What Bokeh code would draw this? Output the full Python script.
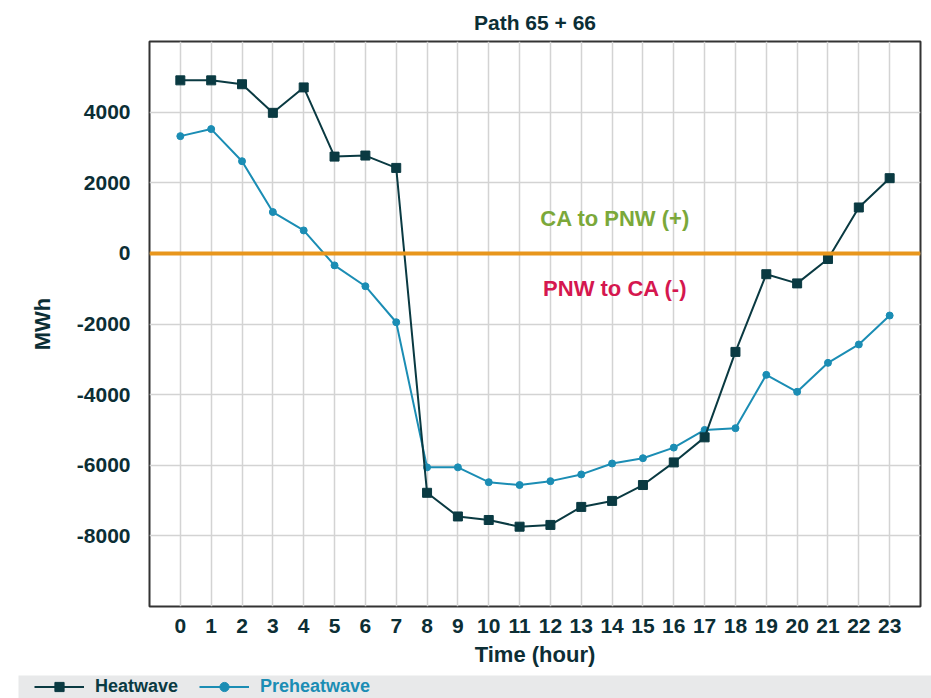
from bokeh.plotting import figure
from bokeh.models import (Span, Label, FixedTicker, Range1d, Legend, LegendItem,
                          ColumnDataSource, Spacer)
from bokeh.layouts import column, row
from bokeh.embed import file_html
from bokeh.resources import INLINE

hours = list(range(24))
heatwave = [4900, 4900, 4790, 3980, 4700, 2740, 2770, 2420, -6780, -7450, -7550, -7740,
            -7690, -7180, -7010, -6560, -5920, -5210, -2790, -590, -850, -160, 1300, 2130]
preheatwave = [3320, 3520, 2610, 1170, 650, -340, -930, -1950, -6060, -6060, -6480, -6560,
               -6450, -6260, -5950, -5800, -5500, -5000, -4950, -3440, -3920, -3100, -2580, -1760]
y_ticks = [-8000, -6000, -4000, -2000, 0, 2000, 4000]
series_names = ["Heatwave", "Preheatwave"]

FONT = "Liberation Sans"
DARK = "#0C2E35"
C_HEAT = "#0A3A42"
C_PRE = "#1B8DB4"

p = figure(width=931, height=675, output_backend="svg", toolbar_location=None,
           x_range=Range1d(-1, 24), y_range=Range1d(-10000, 6000),
           min_border_left=149, min_border_right=11, min_border_top=40, min_border_bottom=69,
           title="Path 65 + 66")
p.title.align = "center"
p.title.text_font = FONT
p.title.text_font_size = "21px"
p.title.text_font_style = "bold"
p.title.text_color = DARK
p.title.standoff = 16

p.outline_line_color = "#333333"
p.outline_line_width = 2

p.xaxis.ticker = FixedTicker(ticks=hours)
p.yaxis.ticker = FixedTicker(ticks=y_ticks)
p.yaxis.major_label_overrides = {t: str(t) for t in y_ticks}
for ax in (p.xaxis[0], p.yaxis[0]):
    ax.axis_line_color = None
    ax.major_tick_line_color = None
    ax.minor_tick_line_color = None
    ax.major_tick_out = 0
    ax.major_tick_in = 0
    ax.major_label_text_font = FONT
    ax.major_label_text_font_style = "bold"
    ax.major_label_text_color = DARK
    ax.axis_label_text_font = FONT
    ax.axis_label_text_font_style = "bold"
    ax.axis_label_text_color = DARK
    ax.axis_label_text_font_size = "22px"
p.xaxis.major_label_text_font_size = "21px"
p.yaxis.major_label_text_font_size = "21px"
p.xaxis.axis_label = "Time (hour)"
p.yaxis.axis_label = "MWh"
p.xaxis.major_label_standoff = 12
p.yaxis.major_label_standoff = 19
p.xaxis.axis_label_standoff = 6
p.yaxis.axis_label_standoff = 19

p.grid.grid_line_color = "#D3D3D3"
p.grid.grid_line_width = 1.5

p.add_layout(Span(location=0, dimension="width", line_color="#E8961C", line_width=4))

p.add_layout(Label(x=14.1, y=1000, text="CA to PNW (+)", text_align="center",
                   text_baseline="middle", text_font=FONT, text_font_style="bold",
                   text_font_size="22px", text_color="#7BA83A"))
p.add_layout(Label(x=14.1, y=-1000, text="PNW to CA (-)", text_align="center",
                   text_baseline="middle", text_font=FONT, text_font_style="bold",
                   text_font_size="22px", text_color="#D5174F"))

src = ColumnDataSource(dict(x=hours, heat=heatwave, pre=preheatwave))
p.line("x", "pre", source=src, line_color=C_PRE, line_width=2)
p.scatter("x", "pre", source=src, marker="circle", size=7, fill_color=C_PRE, line_color=C_PRE)
p.line("x", "heat", source=src, line_color=C_HEAT, line_width=2)
p.scatter("x", "heat", source=src, marker="square", size=9, fill_color=C_HEAT, line_color=C_HEAT)

# legend strip (its renderers draw the same series, far outside this strip's ranges)
BAND = "#E8E9EA"
lf = figure(width=913, height=23, output_backend="svg", toolbar_location=None,
            x_range=Range1d(-1000, -999), y_range=Range1d(-1e6, -1e6 + 1),
            min_border=0, min_border_left=0, min_border_right=0, min_border_top=0,
            min_border_bottom=0)
lf.axis.visible = False
lf.grid.visible = False
lf.outline_line_color = None
lf.background_fill_color = BAND
lf.border_fill_color = BAND
hl = lf.line("x", "heat", source=src, line_color=C_HEAT, line_width=2)
hs = lf.scatter("x", "heat", source=src, marker="square", size=9, fill_color=C_HEAT, line_color=C_HEAT)
pl = lf.line("x", "pre", source=src, line_color=C_PRE, line_width=2)
ps = lf.scatter("x", "pre", source=src, marker="circle", size=7, fill_color=C_PRE, line_color=C_PRE)

for name, rends, color, loc in ((series_names[0], [hl, hs], C_HEAT, (16, 0)),
                                (series_names[1], [pl, ps], C_PRE, (181, 0))):
    lg = Legend(items=[LegendItem(label=name, renderers=rends)], location=loc,
                orientation="horizontal", background_fill_alpha=0, border_line_color=None,
                padding=0, margin=0, glyph_width=50, glyph_height=23, label_height=23,
                label_standoff=11, label_text_font=FONT, label_text_font_size="18px",
                label_text_font_style="bold", label_text_color=color)
    lf.add_layout(lg, "center")

layout = column(p, row(Spacer(width=18, height=23), lf))
open("out.html", "w").write(file_html(layout, INLINE))
